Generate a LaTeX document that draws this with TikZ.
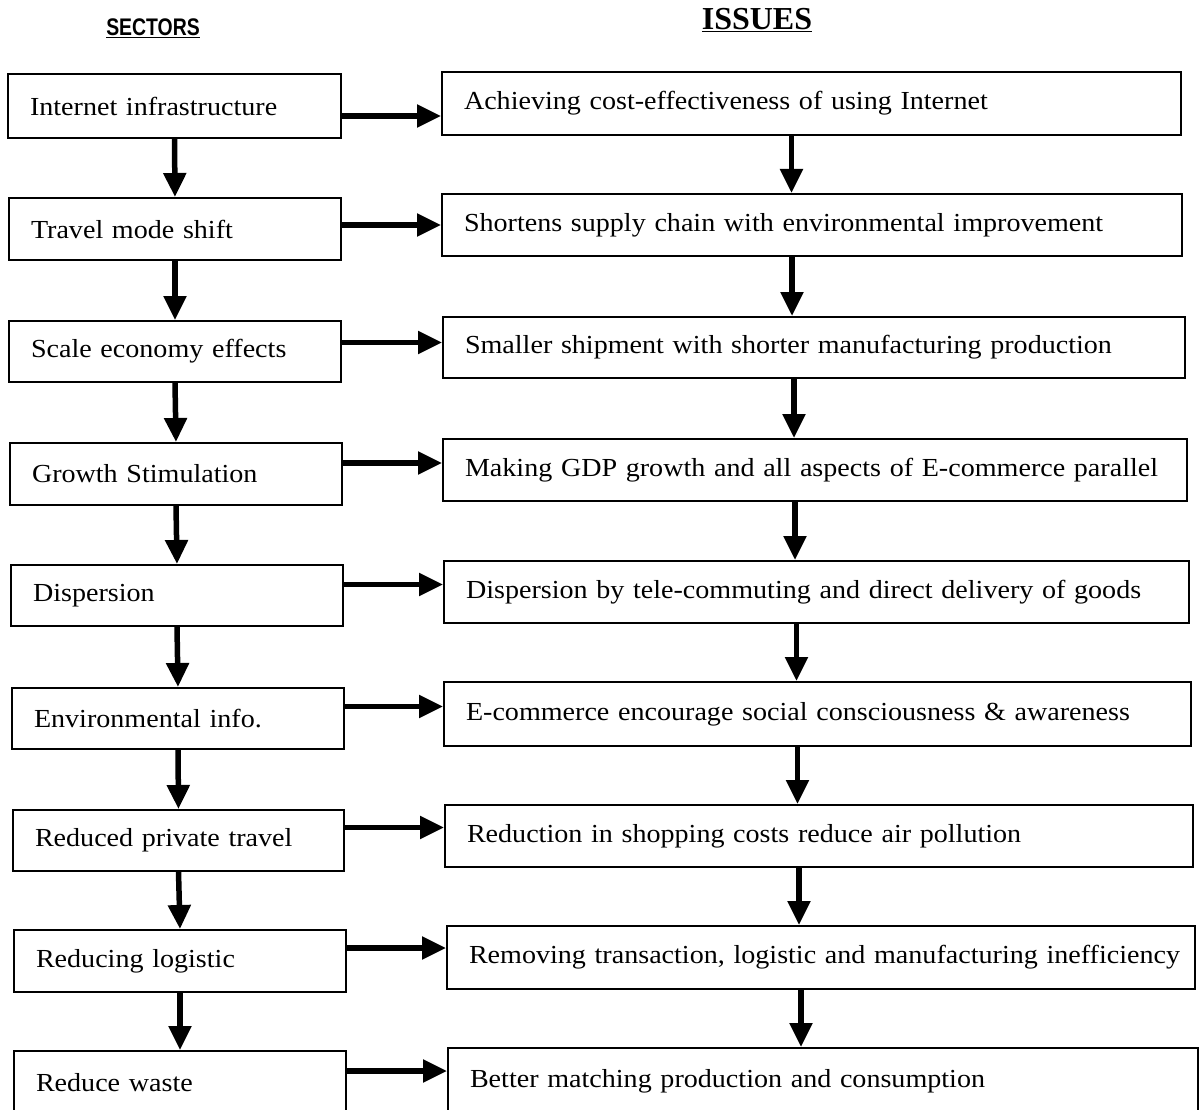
\documentclass[tikz,border=0pt]{standalone}
\usepackage{fontspec}
\setmainfont{Liberation Serif}[FakeStretch=1.08]
\newfontfamily\hdsans{Liberation Sans}
\newfontfamily\hdserif{Liberation Serif}
\usetikzlibrary{arrows.meta,calc}
\tikzset{
  box/.style={draw, line width=2pt, anchor=north west, align=left,
    inner ysep=0pt, inner xsep=22pt, font=\fontsize{26}{30}\selectfont},
  arr/.style={line width=5.5pt, -{Triangle[length=24pt,width=22pt]}},
}
\begin{document}
\begin{tikzpicture}[x=1pt,y=-1pt]
\useasboundingbox (0,0) rectangle (1202,1110);
\node[font=\hdsans\bfseries\fontsize{20}{24}\selectfont] (hs) at (153,28) {\scalebox{0.97}[1.2]{\underline{SECTORS}}};
\node[font=\hdserif\bfseries\fontsize{32}{36}\selectfont] (hi) at (757,20) {\underline{ISSUES}};
\foreach \n/\xa/\ya/\xb/\yb/\t in {
 L1/7/73/340/137/Internet infrastructure,
 L2/8/197/340/259/Travel mode shift,
 L3/8/320/340/381/Scale economy effects,
 L4/9/442/341/504/Growth Stimulation,
 L5/10/564/342/625/Dispersion,
 L6/11/687/343/748/Environmental info.,
 L7/12/809/343/870/Reduced private travel,
 L8/13/929/345/991/Reducing logistic,
 L9/13/1050/345/1114/Reduce waste,
 R1/441/71/1180/134/Achieving cost-effectiveness of using Internet,
 R2/441/193/1181/255/Shortens supply chain with environmental improvement,
 R3/442/316/1184/377/Smaller shipment with shorter manufacturing production,
 R4/442/438/1186/500/Making GDP growth and all aspects of E-commerce parallel,
 R5/443/560/1188/622/Dispersion by tele-commuting and direct delivery of goods,
 R6/443/681/1190/745/E-commerce encourage social consciousness \& awareness,
 R7/444/804/1192/866/Reduction in shopping costs reduce air pollution,
 R8/446/925/1194/988/Removing transaction{,} logistic and manufacturing inefficiency,
 R9/447/1047/1197/1114/Better matching production and consumption}
{
  \pgfmathsetmacro\bw{\xb-\xa}
  \pgfmathsetmacro\bh{\yb-\ya}
  \pgfmathsetmacro\tw{\xb-\xa-44}
  \node[box, minimum width=\bw pt, minimum height=\bh pt, text width=\tw pt] (\n) at (\xa,\ya) {\mbox{\t}};
}
% horizontal arrows
\foreach \i/\dy in {1/-10,2/4,3/9,4/11,5/11,6/12,7/13,8/13,9/12}{
  \draw[arr] ([yshift=\dy pt]L\i.east) -- ([yshift=\dy pt]L\i.east -| R\i.west);
}
% vertical arrows
\foreach \i/\j in {1/2,2/3,3/4,4/5,5/6,6/7,7/8,8/9}{
  \draw[arr] (L\i.south) -- (L\j.north);
  \draw[arr] ([xshift=-20pt]R\i.south) -- ([xshift=-20pt]R\i.south |- R\j.north);
}
\end{tikzpicture}
\end{document}
